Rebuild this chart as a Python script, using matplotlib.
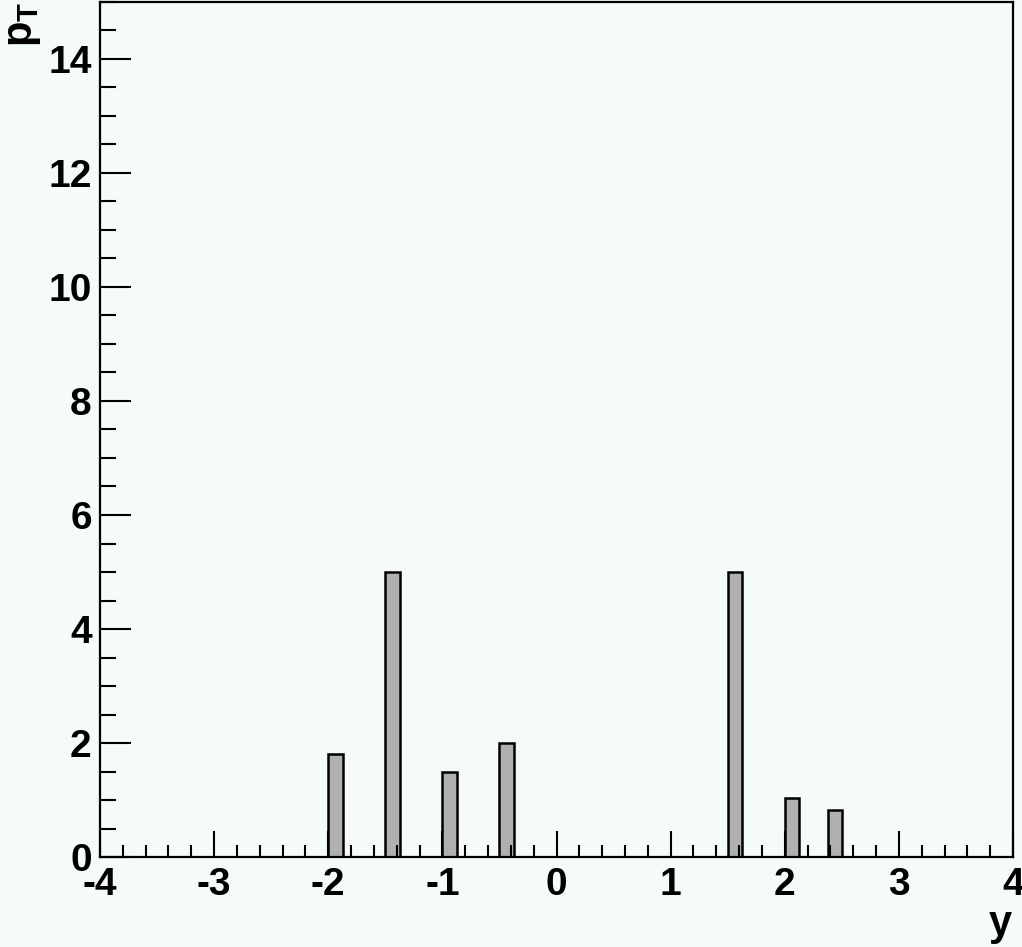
import matplotlib
matplotlib.use("Agg")
import matplotlib.pyplot as plt
from matplotlib.ticker import MultipleLocator

# histogram contents (64 bins over -4..4, only filled bins listed)
bin_width = 0.125
bin_lo = [-2.0, -1.5, -1.0, -0.5, 1.5, 2.0, 2.375]
pt_sum = [1.8, 5.0, 1.5, 2.0, 5.0, 1.03, 0.82]
x_ticks = [-4, -3, -2, -1, 0, 1, 2, 3, 4]
y_ticks = [0, 2, 4, 6, 8, 10, 12, 14]

plt.rcParams['font.family'] = ['Liberation Sans', 'DejaVu Sans']
plt.rcParams['font.weight'] = 'bold'
plt.rcParams['axes.unicode_minus'] = False
plt.rcParams['mathtext.fontset'] = 'custom'
plt.rcParams['mathtext.bf'] = 'Liberation Sans:bold'
plt.rcParams['mathtext.rm'] = 'Liberation Sans:bold'

bg = '#f5fbf8'
fig = plt.figure(figsize=(10.22, 9.47), dpi=100, facecolor=bg)
ax = fig.add_axes([100 / 1022, 90 / 947, 913 / 1022, 855 / 947])
ax.set_facecolor(bg)

ax.bar(bin_lo, pt_sum, width=bin_width, align='edge',
       color='#b0b0b0', edgecolor='black', linewidth=1.8)

ax.set_xlim(-4, 4)
ax.set_ylim(0, 15)
ax.set_xticks(x_ticks)
ax.set_yticks(y_ticks)
ax.xaxis.set_minor_locator(MultipleLocator(0.2))
ax.yaxis.set_minor_locator(MultipleLocator(0.5))

for s in ax.spines.values():
    s.set_linewidth(1.6)

ax.tick_params(axis='x', which='major', direction='in', length=19, width=1.5,
               labelsize=28, pad=7)
ax.tick_params(axis='x', which='minor', direction='in', length=9, width=1.5)
ax.tick_params(axis='y', which='major', direction='in', length=22, width=1.5,
               labelsize=28, pad=6)
ax.tick_params(axis='y', which='minor', direction='in', length=11.5, width=1.5)

# axis titles, ROOT style
fig.text(3 / 1022, 1 - 2 / 947, r'$\mathbf{p}_\mathbf{T}$', rotation=90,
         ha='left', va='top', fontsize=30)
fig.text(1012 / 1022, 1 - 944 / 947, 'y', ha='right', va='bottom',
         fontsize=30, fontweight='bold')

fig.savefig('out.png', dpi=100, facecolor=bg)
